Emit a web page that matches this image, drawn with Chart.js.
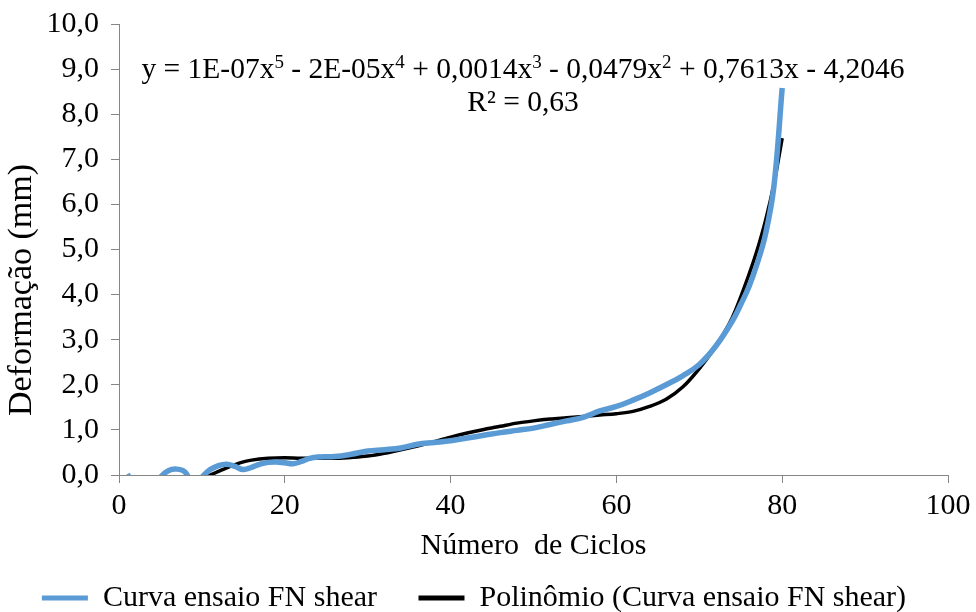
<!DOCTYPE html>
<html>
<head>
<meta charset="utf-8">
<script src="https://cdn.jsdelivr.net/npm/chart.js@4.4.0/dist/chart.umd.min.js"></script>
<style>
    html, body { margin: 0; padding: 0; background: #fff; }
</style>
</head>
<body>
<canvas id="grafico" width="976" height="612"></canvas>
<script>
// =========================================================================
// 1. DONNÉES
// =========================================================================
var ciclosCurva = [1, 2, 3, 4, 5, 6, 7, 8, 9, 10, 11, 12, 13, 14, 15, 16, 17, 18, 19, 20,
    21, 22, 23, 24, 26, 28, 30, 32, 34, 36, 38, 40, 42, 44, 46, 48, 50, 52, 54, 56,
    58, 60, 62, 64, 66, 68, 70, 72, 74, 75, 76, 77, 78, 79, 80];
var deformacaoCurva = [0.02, -0.3, -0.5, -0.35, -0.05, 0.1, 0.13, 0.06, -0.25, -0.05, 0.12, 0.21, 0.24, 0.19, 0.12, 0.17, 0.24, 0.28, 0.29, 0.27,
    0.25, 0.3, 0.37, 0.4, 0.41, 0.46, 0.53, 0.56, 0.6, 0.68, 0.72, 0.76, 0.82, 0.88, 0.94, 0.99, 1.04, 1.12, 1.2, 1.28,
    1.42, 1.52, 1.66, 1.82, 2.0, 2.2, 2.45, 2.86, 3.42, 3.78, 4.18, 4.7, 5.35, 6.4, 8.58];

var ciclosPoli = [8, 10, 11, 12, 13, 14, 15, 16, 18, 20, 22, 24, 26, 28, 30, 32, 34, 36, 38, 40,
    42, 44, 46, 48, 50, 52, 54, 56, 58, 60, 62, 64, 66, 68, 70, 72, 74, 76, 77, 78, 79, 80];
var deformacaoPoli = [-0.55, -0.12, 0.0, 0.08, 0.16, 0.23, 0.29, 0.33, 0.37, 0.38, 0.37, 0.37, 0.37, 0.39, 0.42, 0.48, 0.56, 0.64, 0.74, 0.84,
    0.93, 1.01, 1.08, 1.15, 1.2, 1.24, 1.27, 1.3, 1.33, 1.36, 1.41, 1.52, 1.68, 1.95, 2.36, 2.86, 3.5, 4.45, 5.0, 5.65, 6.45, 7.47];

var nomeCurva = 'Curva ensaio FN shear';
var nomePoli = 'Polinômio (Curva ensaio FN shear)';

// équation de la courbe de tendance (texte)
var partesEquacao = [
    { t: 'y = 1E-07x' }, { t: '5', sup: true },
    { t: ' - 2E-05x' }, { t: '4', sup: true },
    { t: ' + 0,0014x' }, { t: '3', sup: true },
    { t: ' - 0,0479x' }, { t: '2', sup: true },
    { t: ' + 0,7613x - 4,2046' }
];
var textoR2 = 'R² = 0,63';

var FONTE = '"Liberation Serif", "Times New Roman", serif';
var AZUL = '#5B9BD5';
var CINZA = '#868686';

// =========================================================================
// 2. PLUGIN : équation + titre de l'axe Y
// =========================================================================
var textosPlugin = {
    id: 'textos',
    afterDraw: function(chart) {
        var ctx = chart.ctx;
        ctx.save();
        ctx.fillStyle = '#000';
        ctx.textBaseline = 'alphabetic';

        var fonteBase = '29.5px ' + FONTE;
        var fonteSup = '19px ' + FONTE;
        var largura = 0;
        partesEquacao.forEach(p => {
            ctx.font = p.sup ? fonteSup : fonteBase;
            largura += ctx.measureText(p.t).width;
        });
        var x = 523 - largura / 2;
        partesEquacao.forEach(p => {
            ctx.font = p.sup ? fonteSup : fonteBase;
            ctx.fillText(p.t, x, p.sup ? 68 : 78);
            x += ctx.measureText(p.t).width;
        });

        ctx.font = fonteBase;
        ctx.textAlign = 'center';
        ctx.fillText(textoR2, 523, 111);

        // titre de l'axe Y
        ctx.font = '34px ' + FONTE;
        ctx.translate(22, 290);
        ctx.rotate(-Math.PI / 2);
        ctx.textBaseline = 'middle';
        ctx.fillText('Deformação (mm)', 0, 0);
        ctx.restore();
    }
};

// =========================================================================
// 3. GRAPHIQUE
// =========================================================================
function montarPontos(xs, ys) {
    return xs.map((v, i) => ({ x: v, y: ys[i] }));
}

Chart.defaults.font.family = FONTE;
Chart.defaults.color = '#000';

var ctx = document.getElementById('grafico').getContext('2d');
new Chart(ctx, {
    type: 'scatter',
    data: {
        datasets: [{
            label: nomeCurva,
            data: montarPontos(ciclosCurva, deformacaoCurva),
            showLine: true,
            borderColor: AZUL,
            backgroundColor: AZUL,
            borderWidth: 5.5,
            pointRadius: 0,
            tension: 0.4
        }, {
            label: nomePoli,
            data: montarPontos(ciclosPoli, deformacaoPoli),
            showLine: true,
            borderColor: '#000',
            backgroundColor: '#000',
            borderWidth: 3.5,
            pointRadius: 0,
            cubicInterpolationMode: 'monotone'
        }]
    },
    options: {
        responsive: false,
        animation: false,
        layout: { padding: { left: 0, right: 28, top: 24, bottom: -11 } },
        plugins: {
            tooltip: { enabled: false },
            legend: {
                position: 'bottom',
                labels: {
                    font: { size: 30 },
                    boxWidth: 46,
                    boxHeight: 5,
                    padding: 4,
                    generateLabels: function(chart) {
                        return chart.data.datasets.map((ds, i) => ({
                            // espaces en fin de libellé pour l'écart entre les deux entrées
                            text: i === 0 ? ds.label + '     ' : ds.label,
                            fillStyle: ds.borderColor,
                            strokeStyle: ds.borderColor,
                            lineWidth: 0,
                            datasetIndex: i
                        }));
                    }
                }
            }
        },
        scales: {
            x: {
                type: 'linear',
                min: 0,
                max: 100,
                ticks: { stepSize: 20, font: { size: 30 }, padding: 5, maxRotation: 0 },
                grid: { drawOnChartArea: false, drawTicks: true, tickLength: 8, color: CINZA },
                border: { color: CINZA, width: 1 },
                title: { display: true, text: 'Número  de Ciclos', font: { size: 30 }, padding: { top: -1, bottom: 15 } },
                afterFit: function(s) { s.paddingLeft = 0; s.paddingRight = 0; }
            },
            y: {
                min: 0,
                max: 10,
                ticks: {
                    stepSize: 1,
                    font: { size: 30 },
                    padding: 12,
                    callback: v => v.toFixed(1).replace('.', ',')
                },
                grid: { drawOnChartArea: false, drawTicks: true, tickLength: 8, color: CINZA },
                border: { color: CINZA, width: 1 },
                afterFit: function(s) { s.width = 119; s.paddingTop = 0; s.paddingBottom = 0; }
            }
        }
    },
    plugins: [textosPlugin]
});
</script>
</body>
</html>
